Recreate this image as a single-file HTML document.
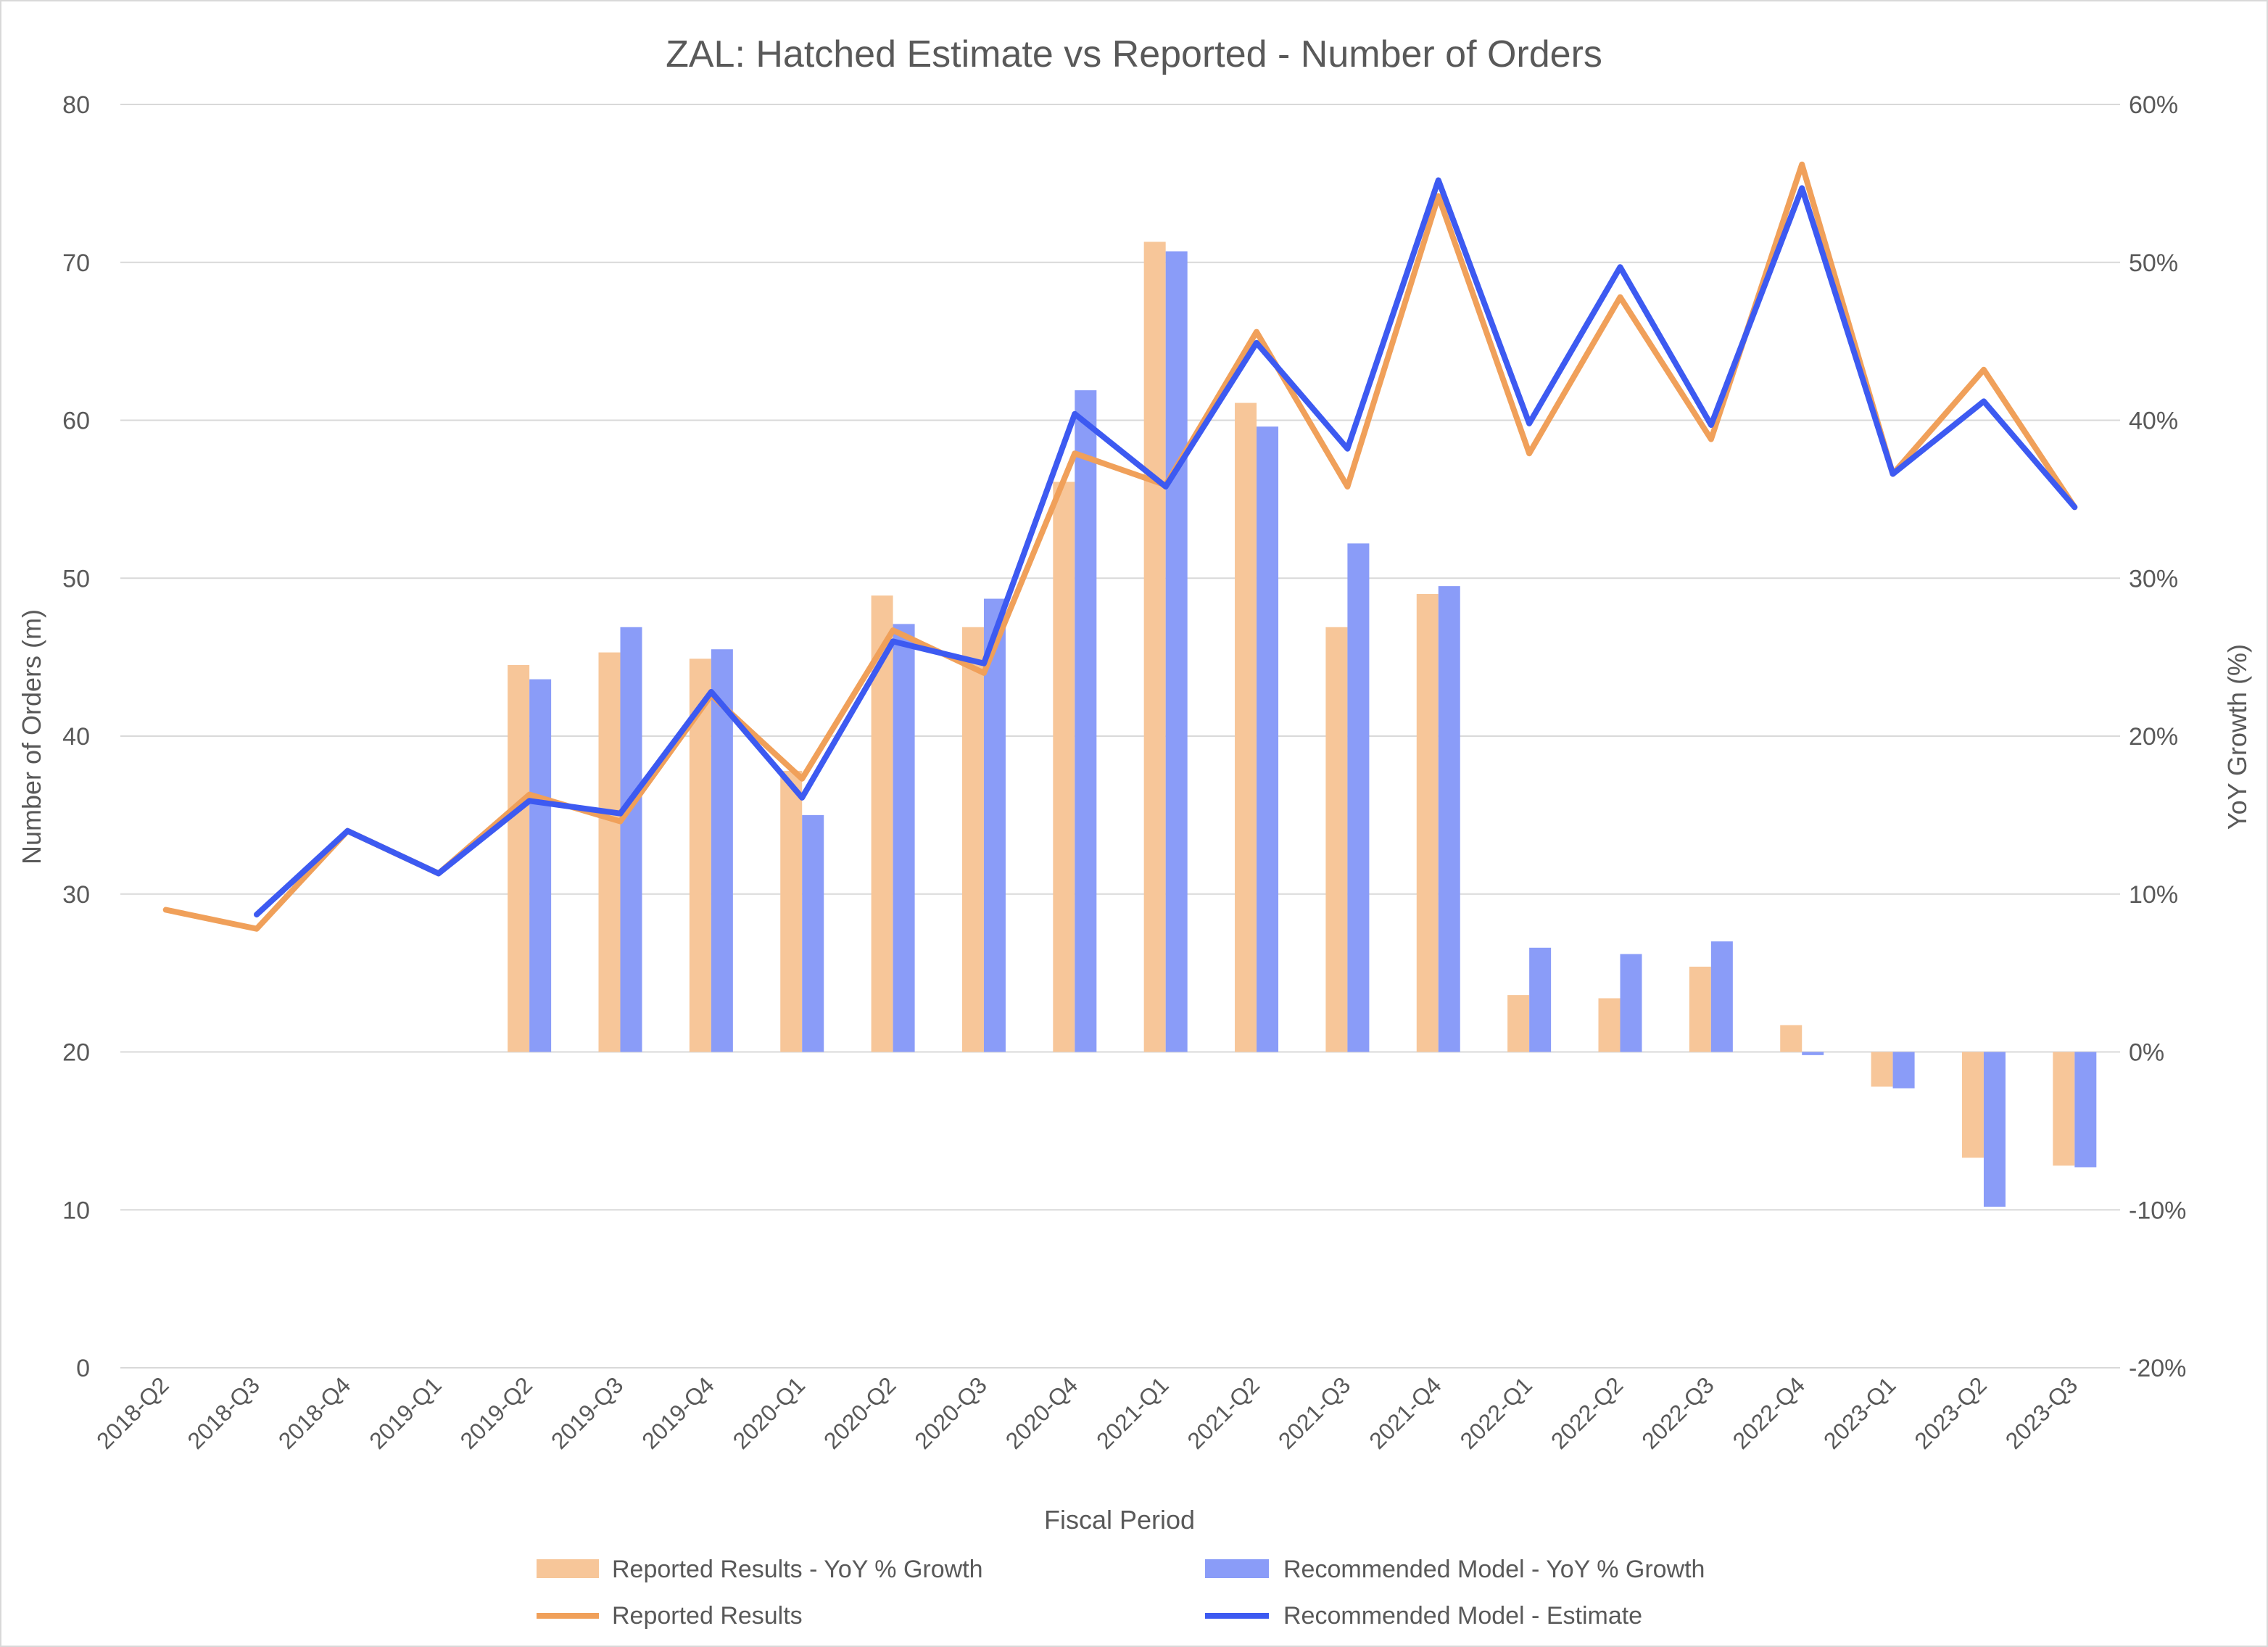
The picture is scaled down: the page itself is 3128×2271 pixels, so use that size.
<!DOCTYPE html>
<html><head><meta charset="utf-8"><style>
html,body{margin:0;padding:0;background:#fff;}
svg{display:block;font-family:"Liberation Sans",sans-serif;}
</style></head><body>
<svg id="chart" width="3128" height="2271" viewBox="0 0 3128 2271" xmlns="http://www.w3.org/2000/svg">
<rect x="1" y="1" width="3126" height="2269" fill="#fff" stroke="#d9d9d9" stroke-width="2"/>
<text x="1564" y="92" text-anchor="middle" font-size="52" fill="#595959">ZAL: Hatched Estimate vs Reported - Number of Orders</text>
<g id="grid"></g>
<g id="bars"></g>
<g id="lines"></g>
<g id="axes"></g>
<text x="1544" y="2108" text-anchor="middle" font-size="36" fill="#595959">Fiscal Period</text>
<text transform="translate(56,1016) rotate(-90)" text-anchor="middle" font-size="36" fill="#595959">Number of Orders (m)</text>
<text transform="translate(3098,1016) rotate(-90)" text-anchor="middle" font-size="36" fill="#595959">YoY Growth (%)</text>
<g font-size="34" fill="#595959">
<g><rect x="740" y="2150" width="86" height="26" fill="#F7C699"/><text x="844" y="2175">Reported Results - YoY % Growth</text></g>
<g><rect x="1662" y="2150" width="88" height="26" fill="#8A9CF8"/><text x="1770" y="2175">Recommended Model - YoY % Growth</text></g>
<g><line x1="740" y1="2228" x2="826" y2="2228" stroke="#F0A05A" stroke-width="8"/><text x="844" y="2239">Reported Results</text></g>
<g><line x1="1662" y1="2228" x2="1750" y2="2228" stroke="#3D5AF1" stroke-width="8"/><text x="1770" y="2239">Recommended Model - Estimate</text></g>
</g>
</svg>
<script>
const categories=["2018-Q2","2018-Q3","2018-Q4","2019-Q1","2019-Q2","2019-Q3","2019-Q4","2020-Q1","2020-Q2","2020-Q3","2020-Q4","2021-Q1","2021-Q2","2021-Q3","2021-Q4","2022-Q1","2022-Q2","2022-Q3","2022-Q4","2023-Q1","2023-Q2","2023-Q3"];
const reported=[29.0,27.8,34.0,31.3,36.3,34.6,42.6,37.3,46.7,44.0,57.9,55.9,65.6,55.8,74.2,57.9,67.8,58.8,76.2,56.6,63.2,54.5];
const estimate=[null,28.7,34.0,31.3,35.9,35.1,42.8,36.1,46.0,44.6,60.4,55.8,64.9,58.2,75.2,59.8,69.7,59.7,74.7,56.6,61.2,54.5];
const reportedGrowth=[null,null,null,null,24.5,25.3,24.9,17.8,28.9,26.9,36.1,51.3,41.1,26.9,29.0,3.6,3.4,5.4,1.7,-2.2,-6.7,-7.2];
const estimateGrowth=[null,null,null,null,23.6,26.9,25.5,15.0,27.1,28.7,41.9,50.7,39.6,32.2,29.5,6.6,6.2,7.0,-0.2,-2.3,-9.8,-7.3];
const leftTicks=[0,10,20,30,40,50,60,70,80];
const rightTicks=[-20,-10,0,10,20,30,40,50,60];

const NS="http://www.w3.org/2000/svg";
const L=166,R=2924,T=144,B=1886;
const yL=v=>B-(v/80)*(B-T);
const yR=v=>B-((v+20)/80)*(B-T);
const cw=(R-L)/categories.length;
const xC=i=>L+cw*(i+0.5);
function mk(tag,parent,attrs){const e=document.createElementNS(NS,tag);for(const k in attrs)e.setAttribute(k,attrs[k]);parent.appendChild(e);return e;}
const grid=document.getElementById('grid'),bars=document.getElementById('bars'),lines=document.getElementById('lines'),axes=document.getElementById('axes');
leftTicks.forEach(v=>{
  const g=mk('line',grid,{x1:L,x2:R,y1:yL(v),y2:yL(v),stroke:'#d9d9d9','stroke-width':2});
  
  
  const t=mk('text',axes,{x:124,y:yL(v)+12,'text-anchor':'end','font-size':34,fill:'#595959'});
  t.textContent=v;
  
  
});
rightTicks.forEach(v=>{
  const t=mk('text',axes,{x:2936,y:yR(v)+12,'text-anchor':'start','font-size':34,fill:'#595959'});
  t.textContent=v+'%';
  
  
});
const bw=30;
categories.forEach((c,i)=>{
  const x=xC(i);
  if(reportedGrowth[i]!==null){
    const y0=yR(0),y1=yR(reportedGrowth[i]);
    const r=mk('rect',bars,{x:x-bw,y:Math.min(y0,y1),width:bw,height:Math.abs(y1-y0),fill:'#F7C699'});
    
    
  }
  if(estimateGrowth[i]!==null){
    const y0=yR(0),y1=yR(estimateGrowth[i]);
    const r=mk('rect',bars,{x:x,y:Math.min(y0,y1),width:bw,height:Math.abs(y1-y0),fill:'#8A9CF8'});
    
    
  }
  const t=mk('text',axes,{transform:`translate(${x+6},${B+26}) rotate(-45)`,'text-anchor':'end','font-size':32,fill:'#595959'});
  t.textContent=c;
  
  
});
function path(arr){let d='';arr.forEach((v,i)=>{if(v===null)return;d+=(d?'L':'M')+xC(i).toFixed(1)+','+yL(v).toFixed(1);});return d;}
const p1=mk('path',lines,{d:path(reported),fill:'none',stroke:'#F0A05A','stroke-width':8,'stroke-linejoin':'round','stroke-linecap':'round'});


const p2=mk('path',lines,{d:path(estimate),fill:'none',stroke:'#3D5AF1','stroke-width':8,'stroke-linejoin':'round','stroke-linecap':'round'});


</script>
</body></html>
